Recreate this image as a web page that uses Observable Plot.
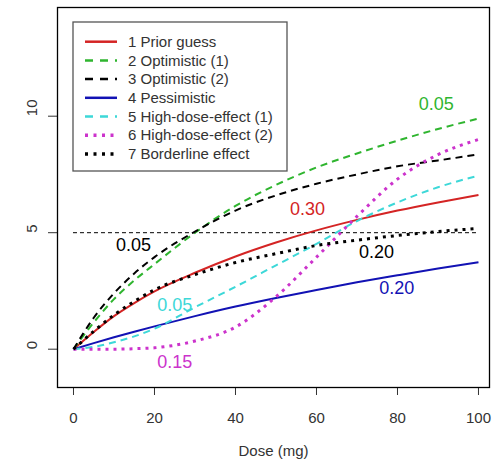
<!DOCTYPE html>
<html><head><meta charset="utf-8">
<script src="https://cdn.jsdelivr.net/npm/d3@7"></script>
<script src="https://cdn.jsdelivr.net/npm/@observablehq/plot@0.6"></script>
<style>
body{margin:0;background:#fff;font-family:"Liberation Sans",Arial,sans-serif;}
#wrap{position:relative;width:496px;height:463px;}
</style></head><body><div id="wrap"></div>
<script>
// ---- data ----
const doses = [0, 5, 10, 15, 20, 30, 40, 50, 60, 70, 80, 90, 100];
const seriesNames = ["1 Prior guess", "2 Optimistic (1)", "3 Optimistic (2)", "4 Pessimistic",
  "5 High-dose-effect (1)", "6 High-dose-effect (2)", "7 Borderline effect"];
const priorGuess     = [0, 0.74, 1.42, 1.98, 2.48, 3.28, 3.98, 4.58, 5.1, 5.55, 5.95, 6.3, 6.62];
const optimistic1    = [0, 1.15, 2.15, 2.95, 3.65, 5.0, 6.15, 7.05, 7.8, 8.4, 8.95, 9.45, 9.9];
const optimistic2    = [0, 1.35, 2.4, 3.25, 3.95, 5.05, 5.95, 6.6, 7.1, 7.5, 7.85, 8.1, 8.36];
const pessimistic    = [0, 0.26, 0.51, 0.75, 0.98, 1.42, 1.83, 2.2, 2.54, 2.87, 3.17, 3.46, 3.73];
const highDose1      = [0, 0.1, 0.3, 0.55, 0.88, 1.8, 2.68, 3.6, 4.52, 5.5, 6.3, 6.95, 7.45];
const highDose2      = [0, 0, 0, 0.02, 0.06, 0.35, 0.95, 2.25, 3.95, 5.7, 7.3, 8.35, 9.0];
const borderline     = [0, 0.77, 1.47, 2.05, 2.55, 3.2, 3.72, 4.1, 4.45, 4.68, 4.88, 5.05, 5.18];
const seriesValues = [priorGuess, optimistic1, optimistic2, pessimistic, highDose1, highDose2, borderline];

const threshold = 5;
const labelTexts  = ["0.30", "0.05", "0.05", "0.20", "0.05", "0.15", "0.20"];
const labelSeries = [0, 1, 2, 3, 4, 5, 6];
const labelDose   = [57.8, 89.6, 14.8, 79.8, 25, 25, 74.8];
const labelValue  = [6.0, 10.5, 4.48, 2.6, 1.9, -0.57, 4.15];
const xTicks = [0, 20, 40, 60, 80, 100];
const yTicks = [0, 5, 10];
const xTitle = "Dose (mg)";

// ---- styles ----
const colors = ["#d42424", "#2fb52f", "#000000", "#1212b4", "#3dd8d8", "#cc33cc", "#000000"];
const dashes = [null, "7,5", "7,5", null, "7,5", "3,5", "3,5"];
const widths = [2, 2, 2, 2, 2, 3, 3];

const rows = [];
seriesValues.forEach((vals, i) => vals.forEach((v, j) => rows.push({model: i, dose: doses[j], value: v})));
const labels = labelTexts.map((t, i) => ({text: t, s: labelSeries[i], dose: labelDose[i], value: labelValue[i]}));

const lineMarks = seriesValues.map((_, i) =>
  Plot.line(rows.filter(r => r.model === i), {
    x: "dose", y: "value", stroke: colors[i], strokeWidth: widths[i],
    strokeDasharray: dashes[i] || undefined, curve: "monotone-x",
    strokeLinecap: "butt"
  })
);

const chart = Plot.plot({
  width: 496, height: 463,
  marginLeft: 57, marginRight: 7, marginTop: 7, marginBottom: 76,
  x: {domain: [-3.95, 102.72]},
  y: {domain: [-1.644, 14.665]},
  style: {fontFamily: "'Liberation Sans', Arial, sans-serif", fontSize: "15px", color: "#333", background: "white"},
  marks: [
    Plot.ruleY([threshold], {x1: doses[0], x2: doses[doses.length - 1], stroke: "black", strokeWidth: 1, strokeDasharray: "4,3"}),
    ...lineMarks,
    Plot.text(labels, {x: "dose", y: "value", text: "text", fill: d => colors[d.s], fontSize: 18}),
    Plot.axisX({ticks: xTicks, tickSize: 8, tickPadding: 17, label: null, fontSize: 15, stroke: "#333"}),
    Plot.axisY({ticks: yTicks, tickSize: 9, tickFormat: () => "", label: null, stroke: "#333"}),
    Plot.text(yTicks, {y: d => d, text: d => String(d), frameAnchor: "left", dx: -25, rotate: -90, fontSize: 15, fill: "#333"}),
    Plot.text([xTitle], {frameAnchor: "bottom", dy: 68, text: d => d, fontSize: 15, fill: "#333"}),
    Plot.frame({stroke: "black", strokeWidth: 1.3})
  ]
});
document.getElementById("wrap").appendChild(chart);

// ---- legend ----
const lg = d3.select("#wrap").append("svg")
  .attr("width", 216).attr("height", 151)
  .style("position", "absolute").style("left", "72px").style("top", "21px");
lg.append("rect").attr("x", 1).attr("y", 1).attr("width", 214).attr("height", 149)
  .attr("fill", "white").attr("stroke", "#555").attr("stroke-width", 1.3);
seriesNames.forEach((name, i) => {
  const cy = 20.7 + i * 18.7;
  lg.append("line").attr("x1", 13).attr("x2", 45).attr("y1", cy).attr("y2", cy)
    .attr("stroke", colors[i]).attr("stroke-width", widths[i] + 0.5)
    .attr("stroke-dasharray", dashes[i] ? (dashes[i] === "3,5" ? "3,5.5" : "8,7") : null);
  lg.append("text").attr("x", 56).attr("y", cy).attr("dy", "0.35em")
    .attr("font-family", "'Liberation Sans', Arial, sans-serif").attr("font-size", 15)
    .attr("fill", "#333").text(name);
});
</script></body></html>
